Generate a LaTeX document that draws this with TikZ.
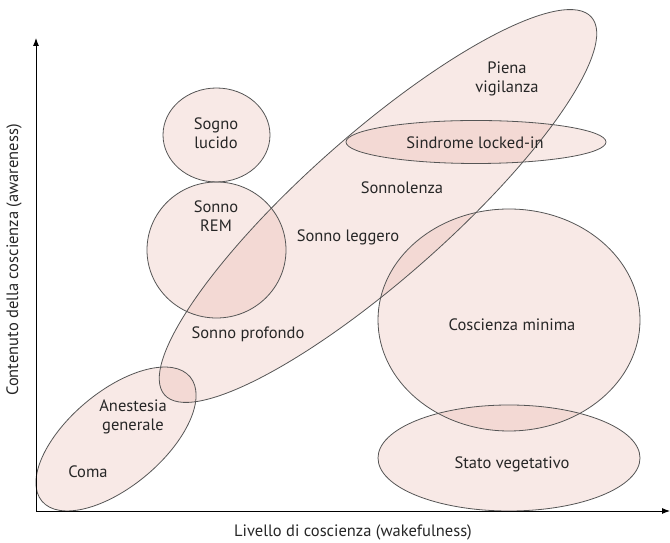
\documentclass[tikz,border=0pt]{standalone}
\usepackage{fontspec}
\setmainfont{PT Sans}
\usetikzlibrary{arrows.meta}
\definecolor{regionfill}{RGB}{232,182,172}
\definecolor{regionline}{RGB}{85,85,85}
\begin{document}
\begin{tikzpicture}[x=1pt,y=1pt,
  regionfillstyle/.style={fill=regionfill,fill opacity=0.3},
  regionlinestyle/.style={draw=regionline,line width=0.8pt},
  lbl/.style={font=\fontsize{16.5}{19}\selectfont,align=center,inner sep=0pt,text=black!85},
  axis/.style={line width=0.9pt,-{Latex[length=8pt,width=6pt]}}]
\useasboundingbox (0,0) rectangle (670,543);
% regions: center x, center y, rx, ry, rotation
\def\regions{216.5/408/53.5/47/0, 216.5/293/69.5/68/0, 378/337/285/72/41.5, 476/401/130/21.5/0, 509/223/131/111/0, 509/85/131/53/0, 116/104/96.7/47.3/40}
\foreach \cx/\cy/\rx/\ry/\ang in \regions
  \fill[regionfillstyle] (\cx,\cy) ellipse [x radius=\rx, y radius=\ry, rotate=\ang];
\foreach \cx/\cy/\rx/\ry/\ang in \regions
  \draw[regionlinestyle] (\cx,\cy) ellipse [x radius=\rx, y radius=\ry, rotate=\ang];
% axes
\coordinate (O) at (36,32);
\coordinate (Ytop) at (36,505);
\coordinate (Xend) at (670,32);
\draw[axis] (O) -- (Ytop);
\draw[axis] (O) -- (Xend);
% labels
\node[lbl] (sognolucido) at (216,410) {Sogno\\lucido};
\node[lbl] (sonnorem) at (216,327) {Sonno\\REM};
\node[lbl] (leggero) at (348,306) {Sonno leggero};
\node[lbl] (sonnolenza) at (402,355) {Sonnolenza};
\node[lbl] (piena) at (507,464) {Piena\\vigilanza};
\node[lbl] (locked) at (475,400) {Sindrome locked-in};
\node[lbl] (profondo) at (248,209) {Sonno profondo};
\node[lbl] (anestesia) at (133,126) {Anestesia\\generale};
\node[lbl] (coma) at (88,71) {Coma};
\node[lbl] (minima) at (512,218) {Coscienza minima};
\node[lbl] (vegetativo) at (512,79) {Stato vegetativo};
\node[lbl] (xlabel) at (353,11) {Livello di coscienza (wakefulness)};
\node[lbl,rotate=90] (ylabel) at (14,283) {Contenuto della coscienza (awareness)};
\end{tikzpicture}
\end{document}
